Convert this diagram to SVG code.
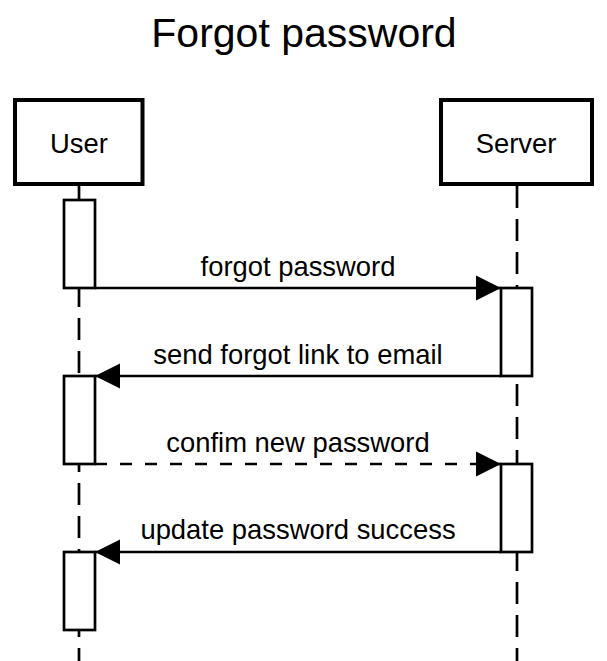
<svg xmlns="http://www.w3.org/2000/svg" width="607" height="661" viewBox="0 0 607 661">
  <style>
    .txt { font-family: "Liberation Sans", Arial, sans-serif; fill: #000; }
    .actor { fill: #fff; stroke: #000; stroke-width: 4; }
    .life { stroke: #000; stroke-width: 2.7; fill: none; stroke-dasharray: 22 11; }
    .act { fill: #fff; stroke: #000; stroke-width: 2.7; }
    .msg { stroke: #000; stroke-width: 2.7; fill: none; }
    .dash { stroke-dasharray: 12 13; }
    .head { fill: #000; stroke: none; }
  </style>
  <rect width="607" height="661" fill="#fff"/>
  <text class="txt" x="304" y="47" font-size="41" text-anchor="middle">Forgot password</text>

  <g id="user">
    <line class="life" x1="79" y1="186" x2="79" y2="661"/>
    <rect class="actor" x="15" y="100" width="127.5" height="84"/>
    <text class="txt" x="79" y="152.5" font-size="27.4" text-anchor="middle">User</text>
  </g>
  <g id="server">
    <line class="life" x1="517" y1="186" x2="517" y2="661"/>
    <rect class="actor" x="441" y="100" width="151" height="84"/>
    <text class="txt" x="516" y="152.5" font-size="27.4" text-anchor="middle">Server</text>
  </g>

  <g id="user-act-1"><rect class="act" x="64" y="200" width="31" height="88"/></g>
  <g id="user-act-2"><rect class="act" x="64" y="376" width="31" height="88"/></g>
  <g id="user-act-3"><rect class="act" x="64" y="552" width="31" height="78"/></g>
  <g id="server-act-1"><rect class="act" x="501" y="288" width="31" height="88"/></g>
  <g id="server-act-2"><rect class="act" x="501" y="464" width="31" height="88"/></g>

  <g id="connectors">
    <line class="msg" x1="95" y1="288" x2="501" y2="288"/>
    <polygon class="head" points="501,288 476,275.5 476,300.5"/>
    <text class="txt" x="298" y="276" font-size="27.4" text-anchor="middle">forgot password</text>

    <line class="msg" x1="501" y1="376" x2="95" y2="376"/>
    <polygon class="head" points="95,376 120,363.5 120,388.5"/>
    <text class="txt" x="298" y="363.5" font-size="27.4" text-anchor="middle">send forgot link to email</text>

    <line class="msg dash" x1="95" y1="464" x2="501" y2="464"/>
    <polygon class="head" points="501,464 476,451.5 476,476.5"/>
    <text class="txt" x="298" y="452" font-size="27.4" text-anchor="middle">confim new password</text>

    <line class="msg" x1="501" y1="552" x2="95" y2="552"/>
    <polygon class="head" points="95,552 120,539.5 120,564.5"/>
    <text class="txt" x="298" y="539" font-size="27.4" text-anchor="middle">update password success</text>
  </g>
</svg>
